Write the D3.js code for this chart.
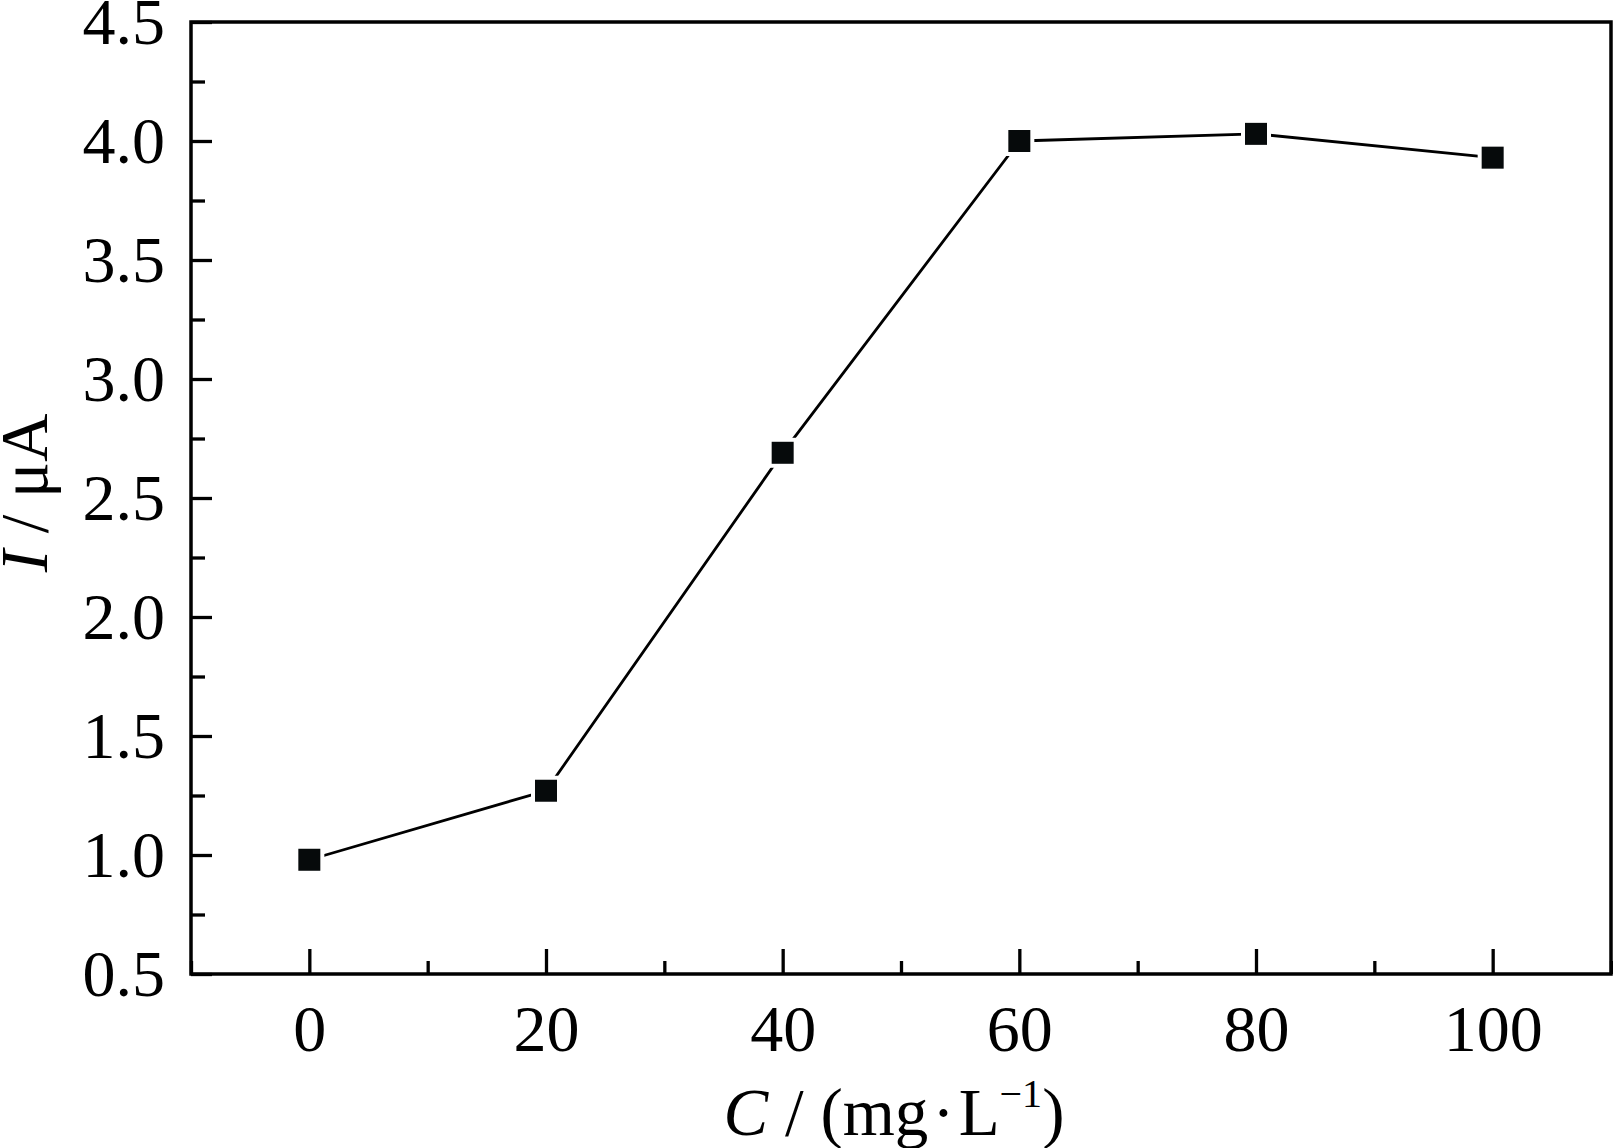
<!DOCTYPE html>
<html>
<head>
<meta charset="utf-8">
<script src="https://cdn.jsdelivr.net/npm/d3@7"></script>
<style>
  body { margin: 0; background: #fff; }
  svg { display: block; }
  text { font-family: "Liberation Serif", "Times New Roman", serif; fill: #000; }
</style>
</head>
<body>
<div id="chart"></div>
<script>
// Current vs. concentration
const concentrations = [0, 20, 40, 60, 80, 100];
const currents = [0.98, 1.27, 2.69, 4.0, 4.03, 3.93];

const xMajorTicks = [0, 20, 40, 60, 80, 100];
const xMinorTicks = [-10, 10, 30, 50, 70, 90, 110];
const yMajorTicks = [0.5, 1.0, 1.5, 2.0, 2.5, 3.0, 3.5, 4.0, 4.5];
const yMinorTicks = [0.75, 1.25, 1.75, 2.25, 2.75, 3.25, 3.75, 4.25];

const width = 1613;
const height = 1148;
const margin = { top: 22, right: 2, bottom: 174, left: 191 };
const innerW = width - margin.left - margin.right;
const innerH = height - margin.top - margin.bottom;

const svg = d3.select("#chart")
  .append("svg")
  .attr("width", width)
  .attr("height", height);

const g = svg.append("g")
  .attr("transform", `translate(${margin.left},${margin.top})`);

const x = d3.scaleLinear().domain([-10, 110]).range([0, innerW]);
const y = d3.scaleLinear().domain([0.5, 4.5]).range([innerH, 0]);

// Axes: ticks point inward
const xAxis = g.append("g")
  .attr("transform", `translate(0,${innerH})`)
  .call(d3.axisBottom(x).tickValues(xMajorTicks).tickSize(-25).tickPadding(30)
    .tickFormat(d3.format("d")));
g.append("g")
  .attr("transform", `translate(0,${innerH})`)
  .call(d3.axisBottom(x).tickValues(xMinorTicks).tickSize(-13).tickFormat(""));

const yAxis = g.append("g")
  .call(d3.axisLeft(y).tickValues(yMajorTicks).tickSize(-21).tickPadding(26)
    .tickFormat(d3.format(".1f")));
g.append("g")
  .call(d3.axisLeft(y).tickValues(yMinorTicks).tickSize(-14).tickFormat(""));

g.selectAll(".domain").remove();
g.selectAll(".tick line").attr("stroke", "#000").attr("stroke-width", 3.3);
g.selectAll(".tick text")
  .attr("font-size", 66)
  .attr("font-family", "'Liberation Serif', 'Times New Roman', serif")
  .attr("fill", "#000");

// Frame
g.append("rect")
  .attr("width", innerW)
  .attr("height", innerH)
  .attr("fill", "none")
  .attr("stroke", "#000")
  .attr("stroke-width", 3.5);

// Data line
const pts = concentrations.map((c, i) => ({ c, v: currents[i] }));

g.append("path")
  .datum(pts)
  .attr("fill", "none")
  .attr("stroke", "#000")
  .attr("stroke-width", 2.8)
  .attr("d", d3.line().x(d => x(d.c)).y(d => y(d.v)));

// Markers with a thin white halo so the line stops short of them
const markers = g.append("g");
markers.selectAll("rect.halo")
  .data(pts)
  .enter()
  .append("rect")
  .attr("class", "halo")
  .attr("x", d => x(d.c) - 15)
  .attr("y", d => y(d.v) - 15)
  .attr("width", 30)
  .attr("height", 30)
  .attr("fill", "#fff");
markers.selectAll("rect.mark")
  .data(pts)
  .enter()
  .append("rect")
  .attr("class", "mark")
  .attr("x", d => x(d.c) - 11)
  .attr("y", d => y(d.v) - 11)
  .attr("width", 22)
  .attr("height", 22)
  .attr("fill", "#060a0b");

// Axis titles
const xTitle = svg.append("text")
  .attr("x", 894)
  .attr("y", 1135)
  .attr("text-anchor", "middle")
  .attr("font-size", 67);
xTitle.append("tspan").attr("font-style", "italic").text("C");
xTitle.append("tspan").text(" / (mg");
xTitle.append("tspan").text("·").attr("dx", 4);
xTitle.append("tspan").text("L").attr("dx", 4);
xTitle.append("tspan").text("−1").attr("font-size", 40).attr("dy", -28);
xTitle.append("tspan").text(")").attr("dy", 28);

const yTitle = svg.append("text")
  .attr("transform", "translate(47,493) rotate(-90)")
  .attr("text-anchor", "middle")
  .attr("font-size", 67);
yTitle.append("tspan").attr("font-style", "italic").text("I");
yTitle.append("tspan").text(" / μA");
</script>
</body>
</html>
